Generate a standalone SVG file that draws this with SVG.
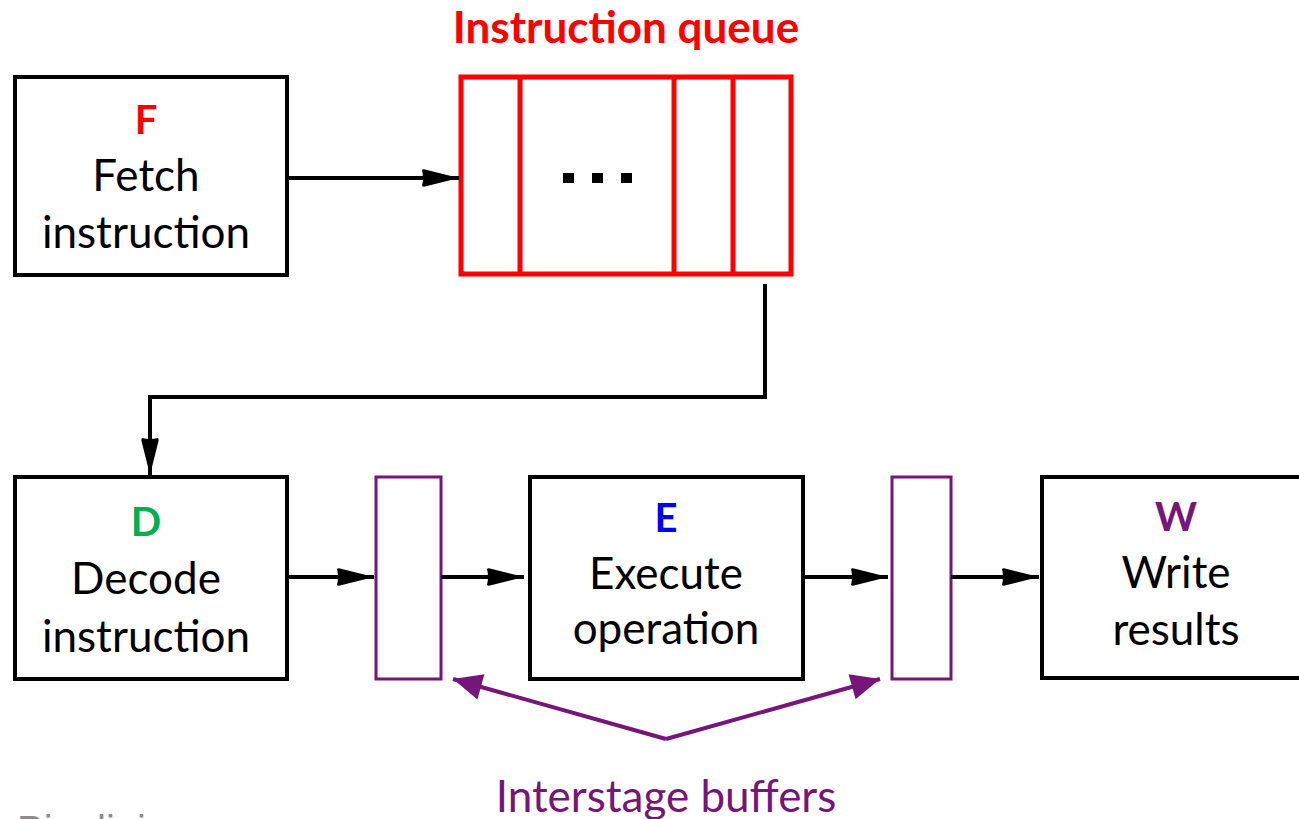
<svg xmlns="http://www.w3.org/2000/svg" width="1299" height="819" viewBox="0 0 1299 819">
<style>
.box{fill:#fff;stroke:#000;stroke-width:4}
.q{fill:none;stroke:#ff0000;stroke-width:5}
.buf{fill:#fff;stroke:#76157a;stroke-width:3}
.t{font-family:Lato,"Liberation Sans",sans-serif;font-size:44px;fill:#000;text-anchor:middle}
.s{font-size:40px}
.b{font-weight:bold}
.ln{fill:none;stroke:#000;stroke-width:4}
.pl{fill:none;stroke:#76157a;stroke-width:4}
</style>
<defs>
<marker id="ah" markerUnits="userSpaceOnUse" markerWidth="40" markerHeight="20" refX="37" refY="9" orient="auto" overflow="visible">
<path d="M0,1 Q1,0 3,0.5 L37,9 L3,17.5 Q1,18 0,17 Q2,9 0,1 Z" fill="#000"/>
</marker>
<marker id="ph" markerUnits="userSpaceOnUse" markerWidth="32" markerHeight="28" refX="29" refY="13" orient="auto" overflow="visible">
<path d="M0,0 L29,13 L0,26 Z" fill="#76157a"/>
</marker>
</defs>

<g id="title">
<text class="t b" x="626" y="43" style="fill:#ff0000">Instruction queue</text>
</g>

<g id="fetch">
<rect class="box" x="15" y="77" width="272" height="198"/>
<text class="t s b" x="146" y="134" style="fill:#ff0000">F</text>
<text class="t" x="146" y="191">Fetch</text>
<text class="t" x="146" y="248">instruction</text>
</g>

<g id="queue">
<rect class="q" x="461" y="77" width="330" height="197"/>
<line class="q" x1="520" y1="77" x2="520" y2="274"/>
<line class="q" x1="674" y1="77" x2="674" y2="274"/>
<line class="q" x1="733" y1="77" x2="733" y2="274"/>
<rect x="563" y="173" width="11" height="10" fill="#000"/>
<rect x="592" y="173" width="11" height="10" fill="#000"/>
<rect x="621" y="173" width="11" height="10" fill="#000"/>
</g>

<g id="decode">
<rect class="box" x="15" y="477" width="272" height="202"/>
<text class="t s b" x="146" y="536" style="fill:#00b050">D</text>
<text class="t" x="146" y="594">Decode</text>
<text class="t" x="146" y="652">instruction</text>
</g>

<g id="buffer1">
<rect class="buf" x="376" y="477" width="65" height="202"/>
</g>

<g id="execute">
<rect class="box" x="530" y="477" width="273" height="202"/>
<text class="t s b" x="666" y="532" style="fill:#0000ff">E</text>
<text class="t" x="666" y="589">Execute</text>
<text class="t" x="666" y="644">operation</text>
</g>

<g id="buffer2">
<rect class="buf" x="892" y="477" width="59" height="202"/>
</g>

<g id="write">
<rect class="box" x="1042" y="477" width="270" height="201"/>
<text class="t s b" x="1176" y="531" style="fill:#76157a">W</text>
<text class="t" x="1176" y="588">Write</text>
<text class="t" x="1176" y="645">results</text>
</g>

<g id="connectors">
<path class="ln" d="M287,178 L459,178" marker-end="url(#ah)"/>
<path class="ln" d="M765,284 L765,397 L150,397 L150,475" marker-end="url(#ah)"/>
<path class="ln" d="M287,577 L374,577" marker-end="url(#ah)"/>
<path class="ln" d="M441,577 L524,577" marker-end="url(#ah)"/>
<path class="ln" d="M803,577 L888,577" marker-end="url(#ah)"/>
<path class="ln" d="M951,577 L1039,577" marker-end="url(#ah)"/>
<path class="pl" d="M666,739 L453,679" marker-end="url(#ph)"/>
<path class="pl" d="M666,739 L880,679" marker-end="url(#ph)"/>
</g>

<g id="labels">
<text class="t" x="666" y="812" style="fill:#76157a">Interstage buffers</text>
<text x="17" y="844" style="font-family:'Liberation Sans',Arial,sans-serif;font-size:40px;fill:#8c8c8c">Pipelining</text>
</g>
</svg>
